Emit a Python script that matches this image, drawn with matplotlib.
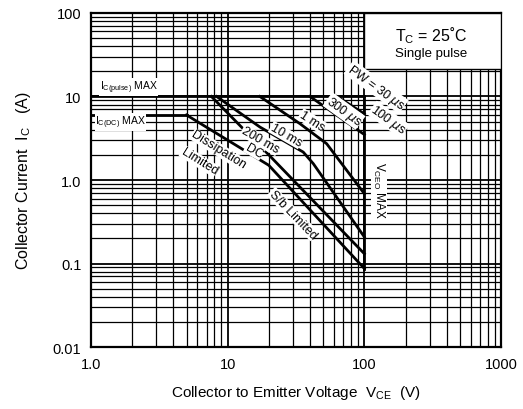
import numpy as np
import matplotlib
matplotlib.use('Agg')
import matplotlib.pyplot as plt
from matplotlib.patches import Rectangle

plt.rcParams['font.family'] = ['Liberation Sans', 'DejaVu Sans']
plt.rcParams['mathtext.fontset'] = 'custom'
plt.rcParams['mathtext.rm'] = 'Liberation Sans'

# Safe operating area curves (VCE in V, IC in A)
dc_v = [5, 20, 100]
dc_i = [6, 1.5, 0.087]
ms200_v = [7.6, 20, 100]
ms200_i = [10, 2.0, 0.131]
ms10_v = [8.3, 17.2, 35.7, 42.3, 100]
ms10_i = [10, 4.31, 2.16, 1.57, 0.208]
ms1_v = [17.2, 33.8, 53, 100]
ms1_i = [10, 4.72, 2.72, 0.685]
us300_v = [40, 100]
us300_i = [10, 3.5]
us100_v = [63, 100]
us100_i = [10, 6.2]

ic_pulse_max = 10
ic_dc_max = 6
vceo_max = 100

x_ticks = [1, 10, 100, 1000]
x_labels = ['1.0', '10', '100', '1000']
y_ticks = [0.01, 0.1, 1, 10, 100]
y_labels = ['0.01', '0.1', '1.0', '10', '100']

fig = plt.figure(figsize=(5.23, 4.10), dpi=100)
ax = fig.add_axes([0.174, 0.151, 0.784, 0.815])
ax.set_xscale('log')
ax.set_yscale('log')
ax.set_xlim(1, 1000)
ax.set_ylim(0.01, 100)

# dense log grid
for dec in [1, 10, 100]:
    for m in range(1, 10):
        ax.axvline(dec * m, color='black', lw=1.3 if m == 1 else 0.9, zorder=1)
for dec in [0.01, 0.1, 1, 10]:
    for m in range(1, 10):
        ax.axhline(dec * m, color='black', lw=1.3 if m == 1 else 0.9, zorder=1)

lw = 2.0
ax.plot([1, vceo_max], [ic_pulse_max, ic_pulse_max], color='black', lw=lw, zorder=3)
ax.plot([1, dc_v[0]], [ic_dc_max, ic_dc_max], color='black', lw=lw, zorder=3)
ax.plot([vceo_max, vceo_max], [ic_pulse_max, dc_i[-1]], color='black', lw=lw, zorder=3)
for v, i in [(dc_v, dc_i), (ms200_v, ms200_i), (ms10_v, ms10_i),
             (ms1_v, ms1_i), (us300_v, us300_i), (us100_v, us100_i)]:
    ax.plot(v, i, color='black', lw=lw, zorder=3)

# condition box
ax.add_patch(Rectangle((100, 21.3), 900, 78.7, facecolor='white',
                       edgecolor='black', lw=1.0, zorder=4))
ax.text(310, 55, r'T$_{\mathrm{C}}$ = 25˚C', ha='center', va='center', fontsize=11.5, zorder=5)
ax.text(310, 33, 'Single pulse', ha='center', va='center', fontsize=9.5, zorder=5)

wb = dict(facecolor='white', edgecolor='none', pad=0.3)
lab = dict(ha='center', va='center', fontsize=9, zorder=5, bbox=wb)
ax.text(122, 13.0, r'PW = 30 $\mu$s', rotation=-36, **lab)
ax.text(150, 5.3, r'100 $\mu$s', rotation=-36, **lab)
ax.text(71, 6.7, r'300 $\mu$s', rotation=-36, **lab)
ax.text(41.4, 5.09, '1 ms', rotation=-33, **lab)
ax.text(26.7, 3.46, '10 ms', rotation=-30, **lab)
ax.text(17.3, 3.0, '200 ms', rotation=-30, **lab)
ax.text(15.6, 2.25, 'DC', rotation=-30, **lab)
ax.text(8.6, 2.3, 'Dissipation', rotation=-32, **lab)
ax.text(6.2, 1.68, 'Limited', rotation=-32, **lab)
ax.text(30.0, 0.392, 'S/b Limited', rotation=-46, **lab)
ax.text(128, 0.78, r'V$_{\mathrm{CEO}}$ MAX', rotation=-90, ha='center', va='center',
        fontsize=8.5, zorder=5, bbox=wb)
ax.text(1.16, 13.0, r'I$_{\mathrm{C(pulse)}}$ MAX', ha='left', va='center',
        fontsize=7.5, zorder=5, bbox=wb)
ax.text(1.07, 4.96, r'I$_{\mathrm{C(DC)}}$ MAX', ha='left', va='center',
        fontsize=7.5, zorder=5, bbox=wb)

ax.set_xticks(x_ticks)
ax.set_xticklabels(x_labels)
ax.set_yticks(y_ticks)
ax.set_yticklabels(y_labels)
ax.minorticks_off()
ax.tick_params(length=0, labelsize=10.5, pad=7)
for s in ax.spines.values():
    s.set_linewidth(1.6)

ax.set_xlabel(r'Collector to Emitter Voltage  V$_{\mathrm{CE}}$  (V)', fontsize=11, labelpad=9)
ax.set_ylabel(r'Collector Current  I$_{\mathrm{C}}$   (A)', fontsize=11.5, labelpad=14)

fig.savefig('out.png', dpi=100)
